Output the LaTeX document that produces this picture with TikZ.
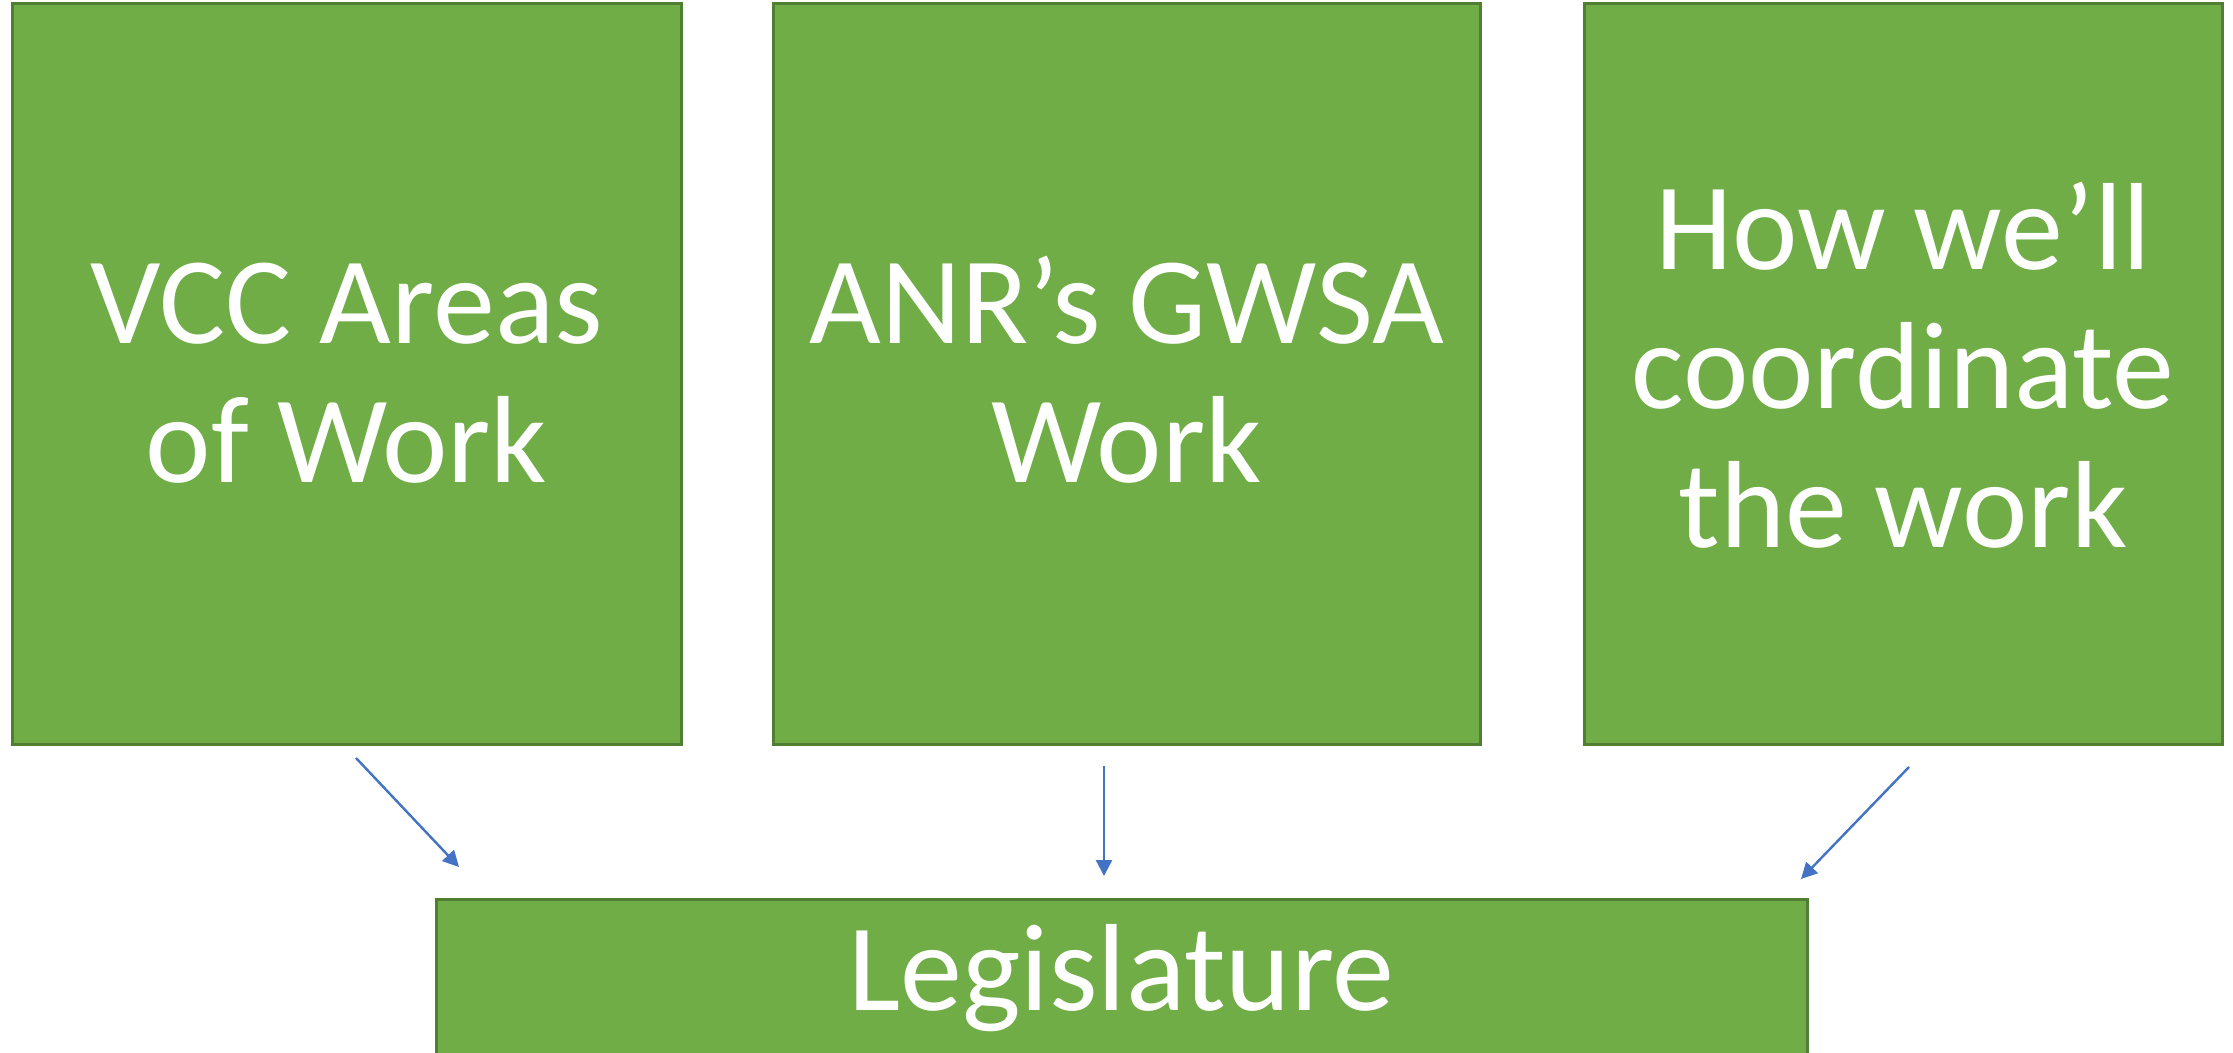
\documentclass[tikz,border=0pt]{standalone}
\usepackage{fontspec}
\setmainfont{Carlito}
\usetikzlibrary{arrows.meta}
\definecolor{boxfill}{HTML}{70AD47}
\definecolor{boxline}{HTML}{507E32}
\definecolor{arrowblue}{HTML}{4472C4}
\tikzset{
  gbox/.style={draw=boxline, line width=1.5pt, fill=boxfill, text=white,
    align=center, inner sep=0pt,
    font=\fontsize{62}{69.5}\selectfont},
  flow/.style={draw=arrowblue, line width=1.2pt,
    -{Triangle[length=8pt,width=8pt]}}
}
\begin{document}
\begin{tikzpicture}[x=0.5pt,y=-0.5pt]
\useasboundingbox (0,0) rectangle (2233,1053);
\node[gbox, minimum width=334.5pt, minimum height=370pt, text height=108pt, text depth=0pt] (vcc) at (346.5,374) {VCC Areas\\of Work};
\node[gbox, minimum width=353.5pt, minimum height=370pt, text height=108pt, text depth=0pt] (anr) at (1126.5,374) {ANR’s GWSA\\Work};
\node[gbox, minimum width=319pt, minimum height=370pt, text height=173pt, text depth=0pt] (how) at (1903,374) {How we’ll\\coordinate\\the work};
\node[gbox, minimum width=685.5pt, minimum height=120pt, text height=0pt, text depth=9pt] (leg) at (1121.5,1019) {Legislature};
\coordinate (a1s) at (356,758);
\coordinate (a1e) at (459,867);
\coordinate (a2s) at (1104,766);
\coordinate (a2e) at (1104,876);
\coordinate (a3s) at (1909,767);
\coordinate (a3e) at (1801,879);
\draw[flow] (a1s) -- (a1e);
\draw[flow] (a2s) -- (a2e);
\draw[flow] (a3s) -- (a3e);
\end{tikzpicture}
\end{document}
